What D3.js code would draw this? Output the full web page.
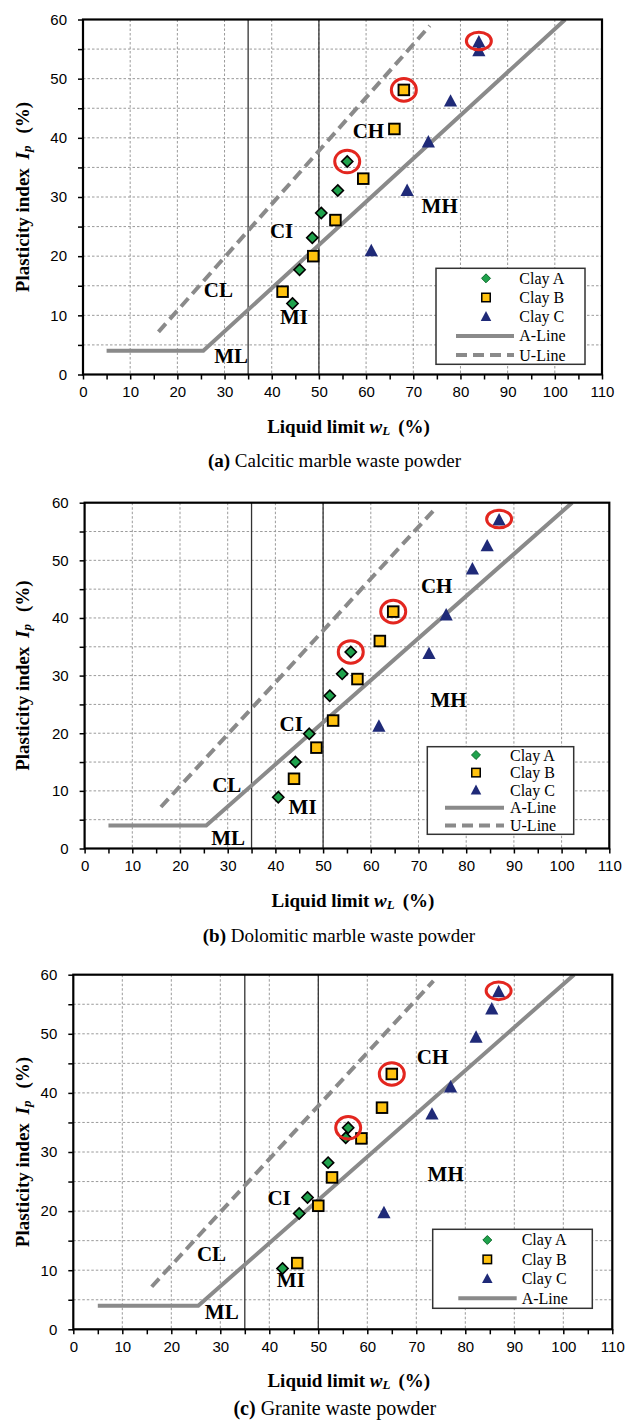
<!DOCTYPE html>
<html><head><meta charset="utf-8">
<script src="https://cdn.jsdelivr.net/npm/d3@7"></script>
<style>body{margin:0;background:#fff} svg{display:block}</style>
</head><body>
<script>
// ---------- DATA ----------
const xTickValues = [0,10,20,30,40,50,60,70,80,90,100,110];
const yTickValues = [0,10,20,30,40,50,60];
const aLineLL = [5, 25.5, 102.2];
const aLinePI = [4, 4, 60];
const uLineLL = [16, 73.5];
const uLinePI = [7.2, 58.95];
const zoneLL = [35, 50];
const seriesNames = ["Clay A", "Clay B", "Clay C"];

// (a) Calcitic marble waste powder  [LL, PI]
const calciticClayA = [[44.4,12.0],[45.9,17.7],[48.6,23.1],[50.5,27.3],[54.0,31.1],[56.0,36.0]];
const calciticClayB = [[42.3,14.0],[48.8,20.0],[53.5,26.1],[59.4,33.1],[66.0,41.5],[68.0,48.1]];
const calciticClayC = [[61.1,20.9],[68.7,31.1],[73.2,39.3],[77.9,46.2],[83.9,54.7],[83.9,56.2]];
// (b) Dolomitic marble waste powder
const dolomiticClayA = [[40.6,8.9],[44.2,15.0],[47.1,19.9],[51.4,26.5],[54.0,30.3],[55.8,34.1]];
const dolomiticClayB = [[43.9,12.1],[48.6,17.5],[52.1,22.2],[57.2,29.4],[61.9,36.0],[64.7,41.1]];
const dolomiticClayC = [[61.7,21.2],[72.2,33.8],[75.8,40.5],[81.3,48.5],[84.4,52.5],[86.9,57.0]];
// (c) Granite waste powder
const graniteClayA = [[42.7,10.3],[46.1,19.6],[47.8,22.3],[52.0,28.2],[55.6,32.4],[56.1,34.1]];
const graniteClayB = [[45.7,11.2],[50.0,20.9],[52.8,25.7],[58.8,32.3],[63.0,37.5],[65.0,43.2]];
const graniteClayC = [[63.4,19.7],[73.2,36.4],[77.0,41.0],[82.2,49.4],[85.4,54.2],[86.8,57.1]];

// circled points (index of highlighted sample in each series)
const circledIndex = [5, 5, 5];

// zone labels [text, LL, PI]
const zoneNames = ["CH","MH","CI","CL","MI","ML"];
const calciticZonePos  = [[60.5,41.2],[75.6,28.5],[42.1,24.2],[28.7,14.3],[44.7,9.8],[31.4,3.1]];
const dolomiticZonePos = [[73.8,45.5],[76.3,25.7],[43.3,21.6],[29.8,11.0],[45.7,7.2],[30.1,1.9]];
const graniteZonePos   = [[73.3,46.0],[76.0,26.2],[42.0,22.3],[28.2,12.7],[44.4,8.4],[30.3,3.0]];

// ---------- LAYOUT ----------
const panels = [
  {box:{x0:83,x1:602,y0:19.5,y1:374.5}, series:[calciticClayA,calciticClayB,calciticClayC], zones:calciticZonePos,
   legend:{x:436,y:268.3,w:149,h:96,r0:10,dr:19.2,mx:50,l0:20,l1:78,tx:83.3,uline:true},
   letter:"(a)", caption:"Calcitic marble waste powder", capSize:19, capDy:85},
  {box:{x0:84.6,x1:609.3,y0:502.7,y1:848.5}, series:[dolomiticClayA,dolomiticClayB,dolomiticClayC], zones:dolomiticZonePos,
   legend:{x:427.3,y:746.7,w:146.4,h:87.6,r0:8.3,dr:17.6,mx:48.7,l0:17.7,l1:76.7,tx:82.7,uline:true},
   letter:"(b)", caption:"Dolomitic marble waste powder", capSize:19, capDy:86},
  {box:{x0:73.3,x1:612.3,y0:974.7,y1:1329.3}, series:[graniteClayA,graniteClayB,graniteClayC], zones:graniteZonePos,
   legend:{x:432.7,y:1229.3,w:159.6,h:79,r0:10.7,dr:19.4,mx:54.6,l0:25.6,l1:84,tx:89,uline:false},
   letter:"(c)", caption:"Granite waste powder", capSize:20, capDy:79}
];

const SERIF = "'Liberation Serif','Times New Roman',serif";
const SANS = "'Liberation Sans',Arial,sans-serif";
const colA = "#1fa24c", colB = "#ffc20e", colC = "#1f2a78", lineCol = "#8a8a8a";

const svg = d3.select("body").append("svg").attr("width",625).attr("height",1423)
  .style("background","#fff");

function marker(g, type, cx, cy, s) {
  if (type === 0) {
    const h = 5.6*s;
    g.append("path").attr("d",`M${cx},${cy-h}L${cx+h},${cy}L${cx},${cy+h}L${cx-h},${cy}Z`)
      .attr("fill",colA).attr("stroke", s<1 ? "#0d6b2c" : "#000").attr("stroke-width", s<1?1:1.6);
  } else if (type === 1) {
    const h = 5.3*s;
    g.append("rect").attr("x",cx-h).attr("y",cy-h).attr("width",2*h).attr("height",2*h)
      .attr("fill",colB).attr("stroke","#000").attr("stroke-width", s<1?1.5:1.9);
  } else {
    const w = 6.6*s, t = 7*s, b = 5.4*s;
    g.append("path").attr("d",`M${cx},${cy-t}L${cx+w},${cy+b}L${cx-w},${cy+b}Z`).attr("fill",colC);
  }
}

panels.forEach((p, pi) => {
  const {x0,x1,y0,y1} = p.box;
  const x = d3.scaleLinear().domain([0,110]).range([x0,x1]);
  const y = d3.scaleLinear().domain([0,60]).range([y1,y0]);
  const g = svg.append("g");
  const clipId = "clip"+pi;
  g.append("clipPath").attr("id",clipId).append("rect")
    .attr("x",x0).attr("y",y0).attr("width",x1-x0).attr("height",y1-y0);

  // grid
  const grid = g.append("g").attr("stroke","#9a9a9a").attr("stroke-width",1).attr("stroke-dasharray","2.5,2");
  d3.range(10,101,10).forEach(v => grid.append("line").attr("x1",x(v)).attr("x2",x(v)).attr("y1",y0).attr("y2",y1));
  d3.range(5,56,5).forEach(v => grid.append("line").attr("x1",x0).attr("x2",x1).attr("y1",y(v)).attr("y2",y(v)));

  // zone lines
  zoneLL.forEach(v => g.append("line").attr("x1",x(v)).attr("x2",x(v)).attr("y1",y(0)).attr("y2",y(60))
    .attr("stroke","#333").attr("stroke-width",1.3));

  // A-line and U-line
  const line = d3.line().x(d=>x(d[0])).y(d=>y(d[1]));
  const lg = g.append("g").attr("clip-path",`url(#${clipId})`);
  lg.append("path").attr("d", line(aLineLL.map((v,i)=>[v,aLinePI[i]])))
    .attr("fill","none").attr("stroke",lineCol).attr("stroke-width",4);
  lg.append("path").attr("d", line(uLineLL.map((v,i)=>[v,uLinePI[i]])))
    .attr("fill","none").attr("stroke",lineCol).attr("stroke-width",4).attr("stroke-dasharray","11,6");

  // axes
  const xa = g.append("g").attr("transform",`translate(0,${y1})`)
    .call(d3.axisBottom(x).tickValues(d3.range(0,111,5)).tickFormat(d=> d%10===0 ? d : "").tickSize(5).tickPadding(7));
  const ya = g.append("g").attr("transform",`translate(${x0},0)`)
    .call(d3.axisLeft(y).tickValues(d3.range(0,61,5)).tickFormat(d=> d%10===0 ? d : "").tickSize(5).tickPadding(11));
  [xa,ya].forEach(a => {
    a.select(".domain").remove();
    a.selectAll(".tick line").attr("stroke","#000").attr("stroke-width",1.5);
    a.selectAll(".tick text").attr("font-family",SANS).attr("font-size",15).attr("fill","#000");
  });
  xa.selectAll(".tick text").filter(d => !xTickValues.includes(d)).remove();
  ya.selectAll(".tick text").filter(d => !yTickValues.includes(d)).remove();

  // frame
  g.append("rect").attr("x",x0).attr("y",y0).attr("width",x1-x0).attr("height",y1-y0)
    .attr("fill","none").attr("stroke","#000").attr("stroke-width",2.2);

  // data
  const dg = g.append("g");
  p.series.forEach((s, si) => s.forEach(d => marker(dg, si, x(d[0]), y(d[1]), 1)));
  // circles
  p.series.forEach((s, si) => {
    const d = s[circledIndex[si]];
    g.append("ellipse").attr("cx",x(d[0])).attr("cy",y(d[1])-(si===2?1:0))
      .attr("rx",12.5).attr("ry", si===2 ? 8.8 : 11.3)
      .attr("fill","none").attr("stroke","#e3261f").attr("stroke-width",3);
  });

  // zone labels
  zoneNames.forEach((z,i) => g.append("text").attr("x",x(p.zones[i][0])).attr("y",y(p.zones[i][1]))
    .attr("text-anchor","middle").attr("dominant-baseline","central")
    .attr("font-family",SERIF).attr("font-weight","bold").attr("font-size",21).text(z));

  // legend
  const L = p.legend;
  const leg = g.append("g").attr("transform",`translate(${L.x},${L.y})`);
  leg.append("rect").attr("width",L.w).attr("height",L.h).attr("fill","#fff").attr("stroke","#333").attr("stroke-width",1.5);
  const items = seriesNames.concat(["A-Line"]).concat(L.uline ? ["U-Line"] : []);
  items.forEach((name,i) => {
    const cy = L.r0 + i*L.dr;
    if (i < 3) marker(leg, i, L.mx, cy, 0.8);
    else leg.append("line").attr("x1",L.l0).attr("x2",L.l1).attr("y1",cy).attr("y2",cy)
      .attr("stroke",lineCol).attr("stroke-width",4).attr("stroke-dasharray", i===4 ? "11,6" : null);
    leg.append("text").attr("x",L.tx).attr("y",cy).attr("dominant-baseline","central")
      .attr("font-family",SERIF).attr("font-size",16).text(name);
  });

  // y axis title
  const yc = (y0+y1)/2;
  const yt = g.append("text").attr("transform",`translate(22,${yc}) rotate(-90)`)
    .attr("text-anchor","middle").attr("dominant-baseline","central")
    .attr("font-family",SERIF).attr("font-weight","bold").attr("font-size",19);
  yt.append("tspan").text("Plasticity index ");
  yt.append("tspan").attr("dx",4).attr("font-style","italic").text("I");
  yt.append("tspan").attr("font-style","italic").attr("font-size",13).attr("dy",4).text("p");
  yt.append("tspan").attr("dy",-4).attr("dx",12).text("(%)");

  // x axis title
  const xt = g.append("text").attr("x",(x0+x1)/2+6).attr("y",y1+51)
    .attr("text-anchor","middle").attr("dominant-baseline","central")
    .attr("font-family",SERIF).attr("font-weight","bold").attr("font-size",19);
  xt.append("tspan").text("Liquid limit ");
  xt.append("tspan").attr("font-style","italic").text("w");
  xt.append("tspan").attr("font-style","italic").attr("font-size",13).attr("dy",4).text("L");
  xt.append("tspan").attr("dy",-4).attr("dx",8).text("(%)");

  // caption
  const ct = g.append("text").attr("x",(x0+x1)/2-8).attr("y",y1+p.capDy)
    .attr("text-anchor","middle").attr("dominant-baseline","central")
    .attr("font-family",SERIF).attr("font-size",p.capSize);
  ct.append("tspan").attr("font-weight","bold").text(p.letter);
  ct.append("tspan").text(" " + p.caption);
});
</script>
</body></html>
